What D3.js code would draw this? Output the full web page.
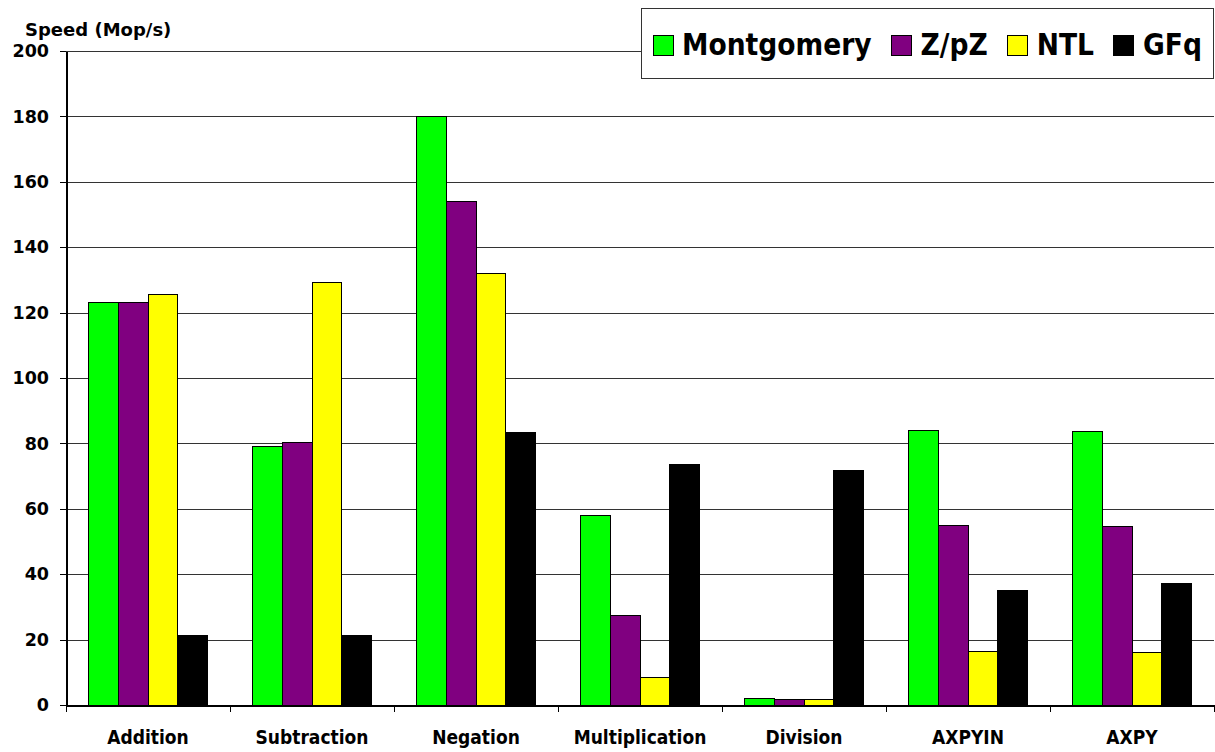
<!DOCTYPE html>
<meta charset="utf-8">
<head>
    <title>Speed</title>
</head>

<style>

body {
  margin: 0;
  background: #fff;
}

.grid line {
  stroke: #333;
  stroke-width: 1;
  shape-rendering: crispEdges;
}

.grid path {
  stroke: none;
}

.axis path,
.axis line {
  fill: none;
  stroke: #000;
  shape-rendering: crispEdges;
}

.axis--y text {
  font: bold 17.5px "DejaVu Sans", Verdana, sans-serif;
  fill: #000;
}

.axis--x text {
  font: bold 19px "DejaVu Sans Condensed", Tahoma, sans-serif;
  fill: #000;
}

.bar {
  stroke: #000;
  stroke-width: 1;
  shape-rendering: crispEdges;
}

.legend text {
  font: bold 29.5px "DejaVu Sans Condensed", Tahoma, sans-serif;
  fill: #000;
}

</style>
<body>
<script src="https://cdn.jsdelivr.net/npm/d3@7/dist/d3.min.js"></script>
<script>

// data
var categories = ["Addition", "Subtraction", "Negation", "Multiplication", "Division", "AXPYIN", "AXPY"];
var seriesNames = ["Montgomery", "Z/pZ", "NTL", "GFq"];
var seriesColors = ["#00ff00", "#800080", "#ffff00", "#000000"];

var montgomery = [123.2, 78.9, 180.1, 58.1, 1.9, 83.8, 83.5];
var zpz        = [123.1, 80.4, 154.1, 27.5, 1.6, 55.0, 54.7];
var ntl        = [125.4, 129.1, 132.1, 8.3, 1.8, 16.4, 16.2];
var gfq        = [21.2, 21.3, 83.2, 73.4, 71.6, 34.9, 37.3];

var yTicks = [0, 20, 40, 60, 80, 100, 120, 140, 160, 180, 200];

var seriesValues = [montgomery, zpz, ntl, gfq];

var margin = {top: 51, right: 1, bottom: 47, left: 66},
    width = 1215 - margin.left - margin.right,
    height = 752 - margin.top - margin.bottom;

var svg = d3.select("body").append("svg")
    .attr("width", 1215)
    .attr("height", 752);

var g = svg.append("g")
    .attr("transform", "translate(" + margin.left + "," + margin.top + ")");

var x0 = d3.scaleBand()
    .domain(categories)
    .range([0, width])
    .padding(0);

// Excel-style gap width of 150%: step = 4 bars + 1.5 bars
var barW = x0.bandwidth() / 5.5;

var x1 = d3.scaleBand()
    .domain(seriesNames)
    .range([barW * 0.75, x0.bandwidth() - barW * 0.75]);

var y = d3.scaleLinear()
    .domain([0, 200])
    .range([height, 0]);

var color = d3.scaleOrdinal()
    .domain(seriesNames)
    .range(seriesColors);

// gridlines
g.append("g")
    .attr("class", "grid")
    .call(d3.axisLeft(y).tickValues(yTicks).tickSize(-width).tickFormat(""));

// bars
var rows = [];
categories.forEach(function(c, i) {
  seriesNames.forEach(function(s, j) {
    rows.push({cat: c, series: s, value: seriesValues[j][i]});
  });
});

g.selectAll(".bar")
    .data(rows)
  .enter().append("rect")
    .attr("class", "bar")
    .attr("x", function(d) { return x0(d.cat) + x1(d.series); })
    .attr("width", x1.bandwidth())
    .attr("y", function(d) { return y(d.value); })
    .attr("height", function(d) { return y(0) - y(d.value); })
    .style("fill", function(d) { return color(d.series); });

// x axis: labels centred, ticks on category boundaries
var xAxis = g.append("g")
    .attr("class", "axis axis--x")
    .attr("transform", "translate(0," + height + ")")
    .call(d3.axisBottom(x0).tickSize(0).tickSizeOuter(0).tickPadding(26));

xAxis.select(".domain")
    .style("stroke-width", 2);

xAxis.selectAll(".boundary")
    .data(categories.map(function(c) { return x0(c); }).concat([x0.range()[1]]))
  .enter().append("line")
    .attr("class", "boundary")
    .attr("x1", function(d) { return d; })
    .attr("x2", function(d) { return d; })
    .attr("y1", 0)
    .attr("y2", 7)
    .style("stroke", "#000");

// y axis
var yAxis = g.append("g")
    .attr("class", "axis axis--y")
    .call(d3.axisLeft(y).tickValues(yTicks).tickSize(6).tickSizeOuter(0).tickPadding(11));

yAxis.select(".domain")
    .style("stroke-width", 2);

// axis title
svg.append("text")
    .attr("x", 25)
    .attr("y", 36)
    .style("font", "bold 18px 'DejaVu Sans', Verdana, sans-serif")
    .text("Speed (Mop/s)");

// draw legend
var legend = svg.append("g")
    .attr("class", "legend");

legend.append("rect")
    .attr("x", 641)
    .attr("y", 8)
    .attr("width", 572)
    .attr("height", 70)
    .style("fill", "#fff")
    .style("stroke", "#333")
    .style("shape-rendering", "crispEdges");

var lx = 653;
seriesNames.forEach(function(s) {
  legend.append("rect")
      .attr("x", lx)
      .attr("y", 35)
      .attr("width", 20)
      .attr("height", 20)
      .style("fill", color(s))
      .style("stroke", "#000")
      .style("shape-rendering", "crispEdges");

  var t = legend.append("text")
      .attr("x", lx + 29)
      .attr("y", 55)
      .text(s);

  lx = lx + 29 + t.node().getComputedTextLength() + 20;
});

</script>
</body>
